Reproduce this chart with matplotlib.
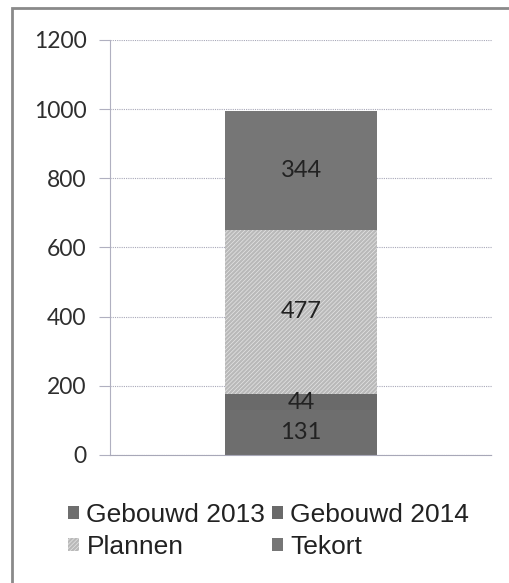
import matplotlib.pyplot as plt
from matplotlib.patches import Rectangle

series = ['Gebouwd 2013', 'Gebouwd 2014', 'Plannen', 'Tekort']
values = [131, 44, 477, 344]
colors = ['#6e6e6e', '#6a6a6a', '#b9b9b9', '#767676']
hatches = ['', '', '////////', '']
yticks = [0, 200, 400, 600, 800, 1000, 1200]

plt.rcParams['hatch.linewidth'] = 0.5

fig = plt.figure(figsize=(5.1, 5.83), dpi=100)
ax = fig.add_axes([0.2157, 0.2196, 0.749, 0.7118])

# outer chart border (only top and left visible in the crop)
fig.patches.append(Rectangle((12 / 510, -0.1), 1.2, 1 - 8 / 583 + 0.1,
                             transform=fig.transFigure, fill=False,
                             edgecolor='#8a8a8a', linewidth=2))

handles = []
bottom = 0
for name, v, c, h in zip(series, values, colors, hatches):
    b = ax.bar(0, v, width=0.4, bottom=bottom, color=c, hatch=h,
               edgecolor='#e6e6e6' if h else c, linewidth=0, label=name)
    handles.append(b)
    ax.text(0, bottom + v / 2, str(v), ha='center', va='center',
            fontsize=17, family='Lato', color='#222222')
    bottom += v

ax.set_xlim(-0.5, 0.5)
ax.set_ylim(0, 1200)
ax.set_yticks(yticks)
ax.set_yticklabels([str(t) for t in yticks], fontsize=16.5, family='Lato', color='#2e2e2e')
ax.set_xticks([])
ax.tick_params(axis='y', length=8, color='#b0b0c0', pad=9)
ax.yaxis.grid(True, color='#a8a8b8', linestyle=(0, (1, 1)), linewidth=0.8)
ax.set_axisbelow(True)
for s in ['top', 'right']:
    ax.spines[s].set_visible(False)
ax.spines['left'].set_color('#b0b0c0')
ax.spines['bottom'].set_color('#a8a8b8')
ax.spines['bottom'].set_linestyle((0, (1, 1)))

order = [0, 2, 1, 3]
leg = fig.legend([handles[i] for i in order], [series[i] for i in order],
                 ncol=2, loc='upper left', bbox_to_anchor=(68 / 510, 1 - 503 / 583),
                 frameon=False, prop={'family': 'Liberation Sans', 'size': 19},
                 handlelength=0.4, handleheight=0.4, handletextpad=0.3,
                 columnspacing=0.25, labelspacing=0.3, borderaxespad=0, borderpad=0)
for t in leg.get_texts():
    t.set_color('#222222')

fig.savefig('out.png', dpi=100)
